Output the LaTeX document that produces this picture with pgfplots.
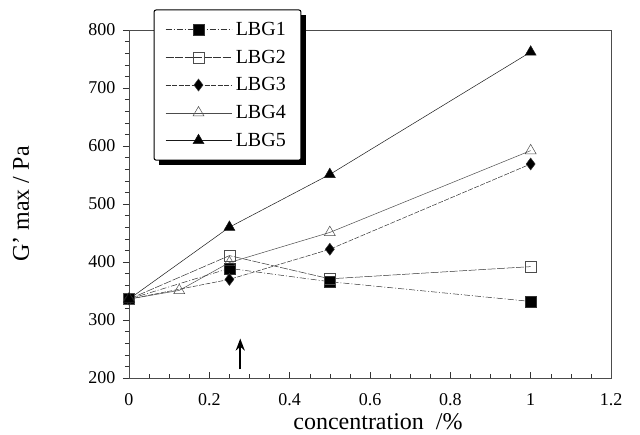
\documentclass[border=0pt]{standalone}
\usepackage{fontspec}
\setmainfont{Liberation Serif}
\usepackage{pgfplots}
\pgfplotsset{compat=1.18}
\usetikzlibrary{arrows.meta}
\begin{document}
\begin{tikzpicture}
\begin{axis}[
  at={(0,0)}, anchor=south west,
  scale only axis,
  width=482pt, height=348pt,
  xmin=0, xmax=1.2, ymin=200, ymax=800,
  xtick={0,0.2,0.4,0.6,0.8,1,1.2},
  xticklabels={0,0.2,0.4,0.6,0.8,1,1.2},
  ytick={200,300,400,500,600,700,800},
  minor x tick num=3, minor y tick num=4,
  xtick pos=bottom, ytick pos=left,
  xtick align=inside, ytick align=outside,
  major tick length=6pt, minor tick length=4pt,
  axis line style={black!70, line width=0.5pt},
  tick style={black!80, line width=0.4pt},
  /pgf/number format/assume math mode=true,
  ticklabel style={font=\fontsize{18}{20}\selectfont},
  xticklabel style={yshift=-14pt, inner ysep=1pt},
  yticklabel style={xshift=-4pt},
  xlabel={concentration \ /\%},
  ylabel={G' max / Pa},
  xlabel style={font=\fontsize{24}{26}\selectfont, at={(axis description cs:0.5,0)}, anchor=base, xshift=8pt, yshift=-51.5pt, inner ysep=0pt},
  ylabel style={font=\fontsize{24}{26}\selectfont, at={(axis description cs:-0.224,0.5)}, anchor=center},
  legend cell align=left,
  legend style={name=leg, at={(axis description cs:0.052,1.0575)}, anchor=north west,
    font=\fontsize{20}{22}\selectfont, draw=none, fill=white,
    row sep=9pt, inner xsep=11pt, inner ysep=10pt,
    nodes={inner xsep=4pt}},
  legend image code/.code={\draw[line width=0.5pt, mark repeat=2,mark phase=2] plot coordinates {(0pt,0pt) (33pt,0pt) (66pt,0pt)};},
]
\addplot[black!80, line width=0.5pt, dash pattern=on 6pt off 2pt on 1pt off 2pt, mark=square*, mark size=5.5pt, mark options={solid, fill=black}]
  coordinates {(0,336) (0.25,389) (0.5,366) (1,332)};
\addlegendentry{LBG1}
\addplot[black!80, line width=0.5pt, dash pattern=on 8pt off 1.5pt, mark=square, mark size=5.5pt, mark options={solid, fill=white, draw=black!70}]
  coordinates {(0,336) (0.25,411) (0.5,371) (1,392)};
\addlegendentry{LBG2}
\addplot[black!80, line width=0.5pt, dash pattern=on 5pt off 1.5pt, mark=diamond*, mark size=6pt, mark options={solid, fill=black}]
  coordinates {(0,336) (0.25,370) (0.5,422) (1,569)};
\addlegendentry{LBG3}
\addplot[black!70, line width=0.5pt, mark=triangle, mark size=6.3pt, mark options={solid, fill=white, draw=black!70}]
  coordinates {(0,336) (0.125,351) (0.25,399) (0.5,451) (1,592)};
\addlegendentry{LBG4}
\addplot[black!90, line width=0.5pt, mark=triangle*, mark size=6.3pt, mark options={solid, fill=black}]
  coordinates {(0,336) (0.25,460) (0.5,551) (1,762)};
\addlegendentry{LBG5}
\draw[black, line width=2.2pt, -{Stealth[length=12pt,width=9pt]}] (axis cs:0.277,215) -- (axis cs:0.277,268);
\end{axis}
\draw[line width=1pt, rounded corners=2pt] (leg.south west) rectangle (leg.north east);
\fill[black] ([yshift=-5pt]leg.north east) rectangle ([xshift=5pt,yshift=-5pt]leg.south east);
\fill[black] ([xshift=5pt]leg.south west) rectangle ([xshift=5pt,yshift=-5pt]leg.south east);
\pgfresetboundingbox
\path[use as bounding box] (-129pt,-57pt) rectangle (511pt,378pt);
\end{tikzpicture}
\end{document}
